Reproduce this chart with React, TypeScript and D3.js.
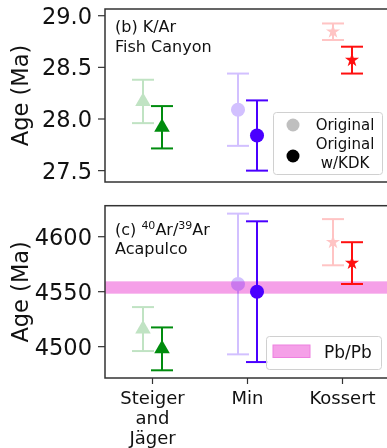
import React from "react";
import * as d3 from "d3";

const categories = ["Steiger and Jäger", "Min", "Kossert"];
const catLabels = [["Steiger", "and", "Jäger"], ["Min"], ["Kossert"]];
const colors = ["#008c0e", "#4a00ff", "#ff1010"];
const shapes = [d3.symbolTriangle, d3.symbolCircle, d3.symbolStar];
const shapeSizes = [105, 155, 62];

// (b) K/Ar Fish Canyon
const kArOrig = [28.17, 28.09, 28.845];
const kArOrigErr = [0.21, 0.35, 0.08];
const kArKdk = [27.92, 27.84, 28.57];
const kArKdkErr = [0.205, 0.34, 0.13];
const kArTicks = [27.5, 28.0, 28.5, 29.0];

// (c) 40Ar/39Ar Acapulco
const arArOrig = [4516, 4557, 4595];
const arArOrigErr = [20, 64, 21];
const arArKdk = [4498, 4550, 4576];
const arArKdkErr = [19.5, 64, 19];
const arArTicks = [4500, 4550, 4600];
const pbpb = [4548.2, 4559.4];

const W = 387, H = 448;
const x = d3.scaleLinear().domain([-0.5, 2.5]).range([105, 390]);
const yTop = d3.scaleLinear().domain([27.39, 29.065]).range([182, 9]);
const yBot = d3.scaleLinear().domain([4471.5, 4628.2]).range([378, 205.7]);
const font = "DejaVu Sans, sans-serif";

function Series({ vals, errs, y, alpha, offset }: any) {
  return (
    <g opacity={alpha}>
      {vals.map((v: number, i: number) => {
        const cx = x(i + offset);
        const y1 = y(v + errs[i]);
        const y2 = y(v - errs[i]);
        const sym = d3.symbol().type(shapes[i]).size(shapeSizes[i])();
        return (
          <g key={i}>
            <line x1={cx} x2={cx} y1={y1} y2={y2} stroke={colors[i]} strokeWidth={2} />
            <line x1={cx - 11} x2={cx + 11} y1={y1} y2={y1} stroke={colors[i]} strokeWidth={2} />
            <line x1={cx - 11} x2={cx + 11} y1={y2} y2={y2} stroke={colors[i]} strokeWidth={2} />
            <path d={sym || ""} transform={`translate(${cx},${y(v)})`} fill={colors[i]} />
          </g>
        );
      })}
    </g>
  );
}

function YAxis({ y, ticks, fmt }: any) {
  return (
    <g>
      {ticks.map((t: number) => (
        <g key={t}>
          <line x1={98} x2={105} y1={y(t)} y2={y(t)} stroke="#333" strokeWidth={1.2} />
          <text x={92} y={y(t)} dy="0.36em" textAnchor="end" fontSize={22.5} fontFamily={font} fill="#111">
            {fmt(t)}
          </text>
        </g>
      ))}
    </g>
  );
}

export default function App() {
  const [r0, r1] = yTop.range();
  const [b0, b1] = yBot.range();
  return (
    <svg width={W} height={H} style={{ position: "absolute", left: 0, top: 0, background: "#fff" }}>
      {/* Top panel */}
      <Series vals={kArOrig} errs={kArOrigErr} y={yTop} alpha={0.25} offset={-0.1} />
      <Series vals={kArKdk} errs={kArKdkErr} y={yTop} alpha={1} offset={0.1} />
      <rect x={105} y={r1} width={390 - 105} height={r0 - r1} fill="none" stroke="#333" strokeWidth={1.5} />
      <YAxis y={yTop} ticks={kArTicks} fmt={d3.format(".1f")} />
      <text x={115} y={32} fontSize={16} fontFamily={font} fill="#111">(b) K/Ar</text>
      <text x={115} y={52} fontSize={16} fontFamily={font} fill="#111">Fish Canyon</text>
      <text transform={`translate(28,${(r0 + r1) / 2}) rotate(-90)`} textAnchor="middle" fontSize={22.5} fontFamily={font} fill="#111">Age (Ma)</text>
      {/* top legend */}
      <rect x={273.5} y={112.5} width={109} height={62} rx={3} fill="#fff" fillOpacity={0.85} stroke="#d0d0d0" />
      <circle cx={293} cy={125} r={6.5} fill="#000" opacity={0.25} />
      <circle cx={293} cy={156} r={6.5} fill="#000" />
      <text x={345} y={125} dy="0.36em" textAnchor="middle" fontSize={15} fontFamily={font} fill="#111">Original</text>
      <text x={345} y={144} dy="0.36em" textAnchor="middle" fontSize={15} fontFamily={font} fill="#111">Original</text>
      <text x={345} y={163} dy="0.36em" textAnchor="middle" fontSize={15} fontFamily={font} fill="#111">w/KDK</text>

      {/* Bottom panel */}
      <rect x={105} y={yBot(pbpb[1])} width={390 - 105} height={yBot(pbpb[0]) - yBot(pbpb[1])} fill="#f5a0e8" />
      <Series vals={arArOrig} errs={arArOrigErr} y={yBot} alpha={0.25} offset={-0.1} />
      <Series vals={arArKdk} errs={arArKdkErr} y={yBot} alpha={1} offset={0.1} />
      <rect x={105} y={b1} width={390 - 105} height={b0 - b1} fill="none" stroke="#333" strokeWidth={1.5} />
      <YAxis y={yBot} ticks={arArTicks} fmt={d3.format("d")} />
      <text x={115} y={235} fontSize={16} fontFamily={font} fill="#111">
        (c) <tspan fontSize={11} dy={-6}>40</tspan><tspan dy={6}>Ar/</tspan><tspan fontSize={11} dy={-6}>39</tspan><tspan dy={6}>Ar</tspan>
      </text>
      <text x={115} y={254} fontSize={16} fontFamily={font} fill="#111">Acapulco</text>
      <text transform={`translate(28,${(b0 + b1) / 2}) rotate(-90)`} textAnchor="middle" fontSize={22.5} fontFamily={font} fill="#111">Age (Ma)</text>
      {/* bottom legend */}
      <rect x={266.5} y={336.5} width={115} height={33} rx={3} fill="#fff" fillOpacity={0.85} stroke="#d0d0d0" />
      <rect x={273} y={345} width={37} height={12.5} fill="#f5a0e8" stroke="#ee80e0" strokeWidth={1} />
      <text x={324} y={351.5} dy="0.36em" fontSize={17} fontFamily={font} fill="#111">Pb/Pb</text>

      {/* x axis */}
      {categories.map((c, i) => (
        <g key={c}>
          <line x1={x(i)} x2={x(i)} y1={b0} y2={b0 + 6} stroke="#333" strokeWidth={1.2} />
          {catLabels[i].map((l, j) => (
            <text key={j} x={x(i)} y={398 + j * 20} dy="0.36em" textAnchor="middle" fontSize={18} fontFamily={font} fill="#111">{l}</text>
          ))}
        </g>
      ))}
    </svg>
  );
}
